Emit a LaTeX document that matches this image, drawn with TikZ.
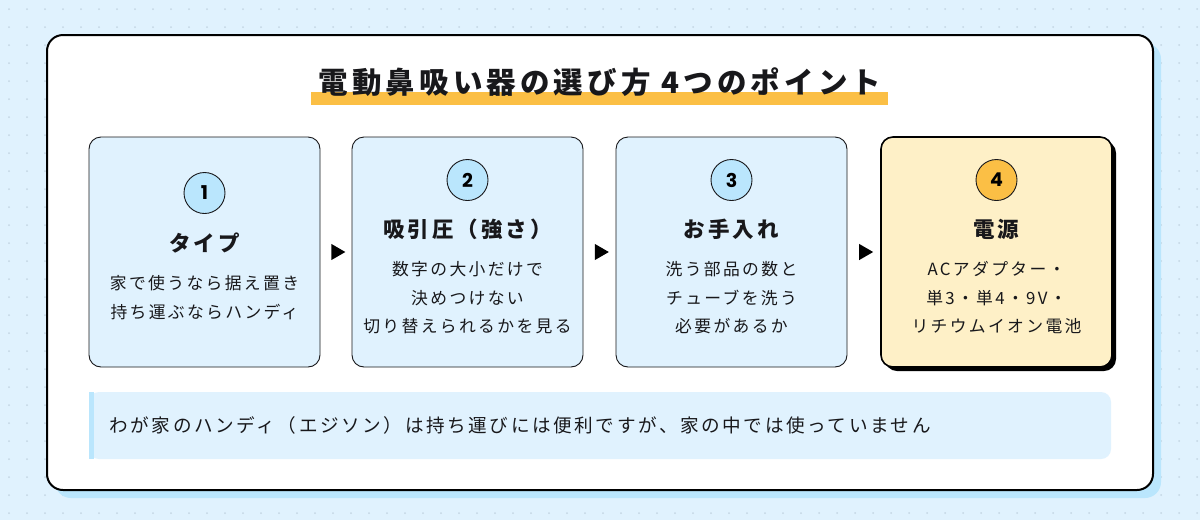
\documentclass[tikz,border=0pt]{standalone}
\usepackage{fontspec}
\setmainfont{Noto Sans CJK JP}
\newfontfamily\spacedfont[LetterSpace=14]{Noto Sans CJK JP}
\newfontfamily\digitfont{Poppins}
\usepackage{tikz}
\usetikzlibrary{shapes.geometric, positioning, calc}
\definecolor{pagebg}{RGB}{224,242,254}
\definecolor{dotgray}{RGB}{196,214,228}
\definecolor{cardblue}{RGB}{224,242,254}
\definecolor{badgeblue}{RGB}{186,230,253}
\definecolor{accentorange}{RGB}{251,191,69}
\definecolor{cardcream}{RGB}{254,240,199}
\definecolor{inkdark}{RGB}{24,24,27}

\begin{document}
\begin{tikzpicture}[
  x=1pt, y=-1pt,
  card/.style={rectangle, draw=inkdark, line width=0.9pt, fill=cardblue,
               rounded corners=12pt, minimum width=231pt, minimum height=230pt},
  hicard/.style={card, draw=black, line width=1.6pt, fill=cardcream},
  badge/.style={circle, draw=inkdark, line width=0.9pt, fill=badgeblue,
                minimum size=41pt, inner sep=0pt, font=\digitfont\fontsize{19}{19}\selectfont\bfseries},
  hibadge/.style={badge, fill=accentorange},
  head/.style={font=\spacedfont\fontsize{21.5}{24}\selectfont\bfseries, text=inkdark},
  body/.style={font=\spacedfont\fontsize{16.8}{28.5}\selectfont, text=inkdark, align=center},
  tri/.style={isosceles triangle, isosceles triangle apex angle=60, fill=black,
              minimum height=14pt, inner sep=0pt},
]
\useasboundingbox (0,0) rectangle (1200,520);

% Background with dot grid
\fill[pagebg] (0,0) rectangle (1200,520);
\foreach \i in {0,...,66}
  \foreach \j in {0,...,28}
    \fill[dotgray] (9+18*\i, 9+18*\j) circle (1pt);

% Frame
\fill[badgeblue, rounded corners=16pt] (55,43) rectangle (1161,498);
\draw[black, line width=2pt, fill=white, rounded corners=16pt] (47,35) rectangle (1153,490);

% Title
\fill[accentorange] (311,92) rectangle (888,105);
\node[font=\spacedfont\fontsize{29.5}{30}\selectfont\bfseries, text=inkdark] (title) at (600,82)
  {電動鼻吸い器の選び方 4つのポイント};

% Cards
\node[card] (type) at (204.5,252) {};
\node[card] (suction) at (467.5,252) {};
\node[card] (care) at (731.5,252) {};
\fill[black, rounded corners=12pt] (885,141) rectangle (1116,371);
\node[hicard] (power) at (996.5,252) {};

% Card 1
\node[badge] (b1) at (204.5,193) {1};
\node[head] (h1) at (204.5,243) {タイプ};
\node[body, anchor=north] (t1) at (204.5,272) {家で使うなら据え置き\\持ち運ぶならハンディ};

% Card 2
\node[badge] (b2) at (467.5,180) {2};
\node[head] (h2) at (467.5,229) {吸引圧（強さ）};
\node[body, anchor=north] (t2) at (467.5,258) {数字の大小だけで\\決めつけない\\切り替えられるかを見る};

% Card 3
\node[badge] (b3) at (731.5,180) {3};
\node[head] (h3) at (731.5,229) {お手入れ};
\node[body, anchor=north] (t3) at (731.5,258) {洗う部品の数と\\チューブを洗う\\必要があるか};

% Card 4
\node[hibadge] (b4) at (996.5,180) {4};
\node[head] (h4) at (996.5,229) {電源};
\node[body, anchor=north] (t4) at (996.5,258) {ACアダプター・\\単3・単4・9V・\\リチウムイオン電池};

% Step markers
\node[tri] (s12) at ($(type.east)!0.5!(suction.west)$) {};
\node[tri] (s23) at ($(suction.east)!0.5!(care.west)$) {};
\node[tri] (s34) at ($(care.east)!0.5!(power.west)$) {};

% Note
\node[rectangle, fill=cardblue, rounded corners=10pt, minimum width=1022pt,
      minimum height=67pt] (note) at (600,425.5) {};
\fill[badgeblue] (note.north west) rectangle ([xshift=5pt]note.south west);
\node[anchor=west, font=\spacedfont\fontsize{18.6}{19}\selectfont, text=inkdark] (notetext) at (106,425)
  {わが家のハンディ（エジソン）は持ち運びには便利ですが、家の中では使っていません};

\end{tikzpicture}
\end{document}
